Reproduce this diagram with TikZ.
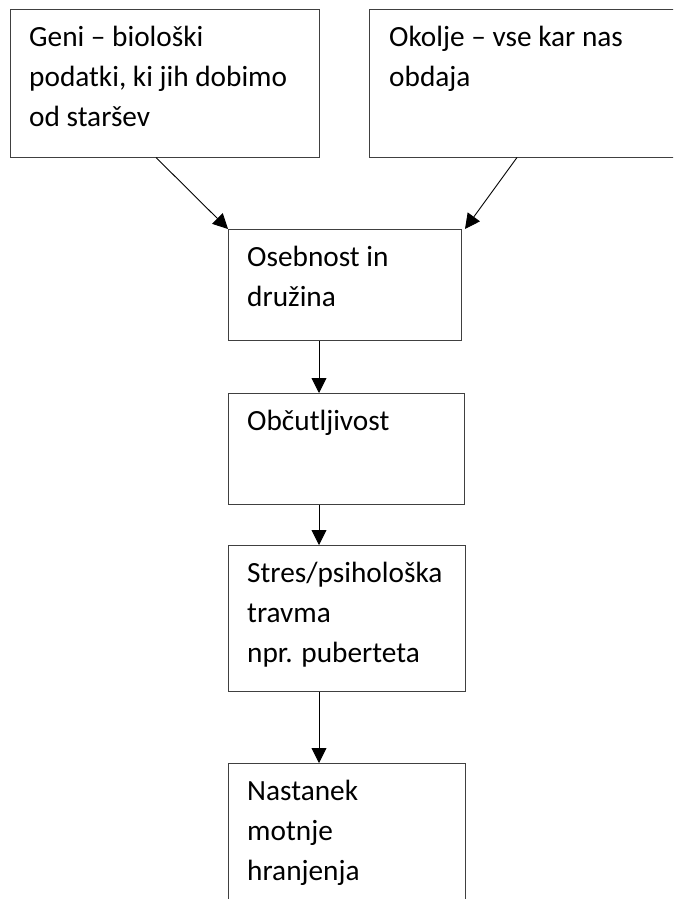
\documentclass[tikz,border=0pt]{standalone}
\usepackage{fontspec}
\setmainfont{Carlito}
\usetikzlibrary{arrows.meta}
\begin{document}
\begin{tikzpicture}[x=1pt,y=-1pt,
 box/.style={draw=black!75, line width=1pt, rectangle, inner sep=0pt, anchor=north west},
 txt/.style={anchor=north west, inner sep=0pt, align=left, font=\fontsize{29.3}{40}\selectfont},
 arr/.style={draw=black, line width=0.9pt, -{Triangle[length=15pt,width=15pt]}}]
\useasboundingbox (0,0) rectangle (673,899);
\clip (0,0) rectangle (673,899);
\fill[white] (0,0) rectangle (673,899);
% boxes
\node[box, minimum width=309pt, minimum height=147pt] (g) at (10,9.5) {};
\node[box, minimum width=330pt, minimum height=147pt] (k) at (369,9.5) {};
\node[box, minimum width=233pt, minimum height=111pt] (o) at (228,229) {};
\node[box, minimum width=236pt, minimum height=111pt] (c) at (228,393) {};
\node[box, minimum width=237pt, minimum height=146pt] (s) at (228,545) {};
\node[box, minimum width=237pt, minimum height=200pt] (n) at (228,763) {};
% texts
\node[txt] (gt) at ([shift={(19,7)}]g.north west) {\rule{0pt}{30pt}Geni – biološki\\podatki, ki jih dobimo\\od staršev};
\node[txt] (kt) at ([shift={(20,7)}]k.north west) {\rule{0pt}{30pt}Okolje – vse kar nas\\obdaja};
\node[txt] (ot) at ([shift={(19,7)}]o.north west) {\rule{0pt}{30pt}Osebnost in\\družina};
\node[txt] (ct) at ([shift={(19,7)}]c.north west) {\rule{0pt}{30pt}Občutljivost};
\node[txt] (st) at ([shift={(19,7)}]s.north west) {\rule{0pt}{30pt}Stres/psihološka\\travma\\npr. puberteta};
\node[txt] (nt) at ([shift={(19,7)}]n.north west) {\rule{0pt}{30pt}Nastanek\\motnje\\hranjenja};
% arrows
\draw[arr] ([xshift=146pt]g.south west) -- (o.north west);
\draw[arr] ([xshift=148pt]k.south west) -- ([xshift=3pt]o.north east);
\draw[arr] ([xshift=91pt]o.south west) -- ([xshift=91pt]c.north west);
\draw[arr] ([xshift=91pt]c.south west) -- ([xshift=91pt]s.north west);
\draw[arr] ([xshift=91pt]s.south west) -- ([xshift=91pt]n.north west);
\end{tikzpicture}
\end{document}
